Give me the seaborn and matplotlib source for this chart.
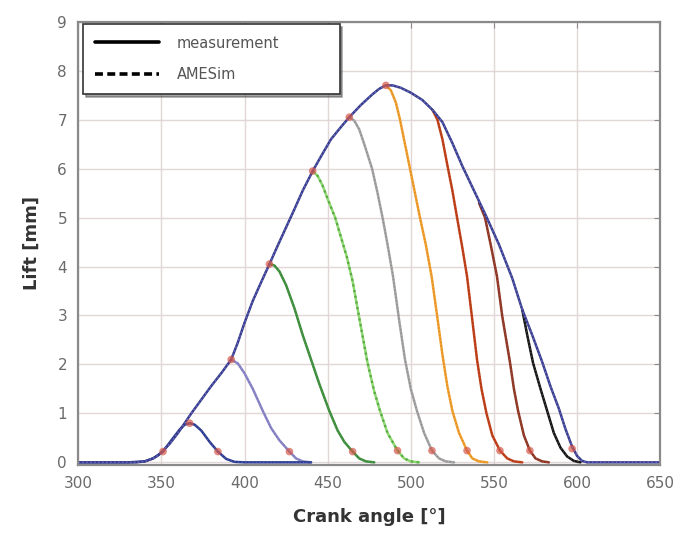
import matplotlib
matplotlib.use('Agg')
import matplotlib.pyplot as plt
from matplotlib.lines import Line2D
import seaborn as sns
import pandas as pd

#------------------------------------------------------------------------------------------------------------------------------
# values (crank angle in deg, lift in mm)

env_x = [300, 320, 335, 340, 345, 348, 351, 355, 360, 364, 368, 374, 380, 386, 392, 396, 400, 405, 410, 415, 420, 425,
         430, 435, 441, 446, 452, 458, 463, 470, 477, 481, 485, 489, 494, 500, 507, 513, 519, 525, 531, 538, 545, 553,
         561, 567, 573, 579, 584, 589, 593, 597, 600, 603, 606, 620, 650]
env_y = [0, 0, 0, 0.02, 0.08, 0.14, 0.24, 0.38, 0.6, 0.8, 1.0, 1.28, 1.56, 1.82, 2.1, 2.45, 2.85, 3.3, 3.68, 4.05, 4.43,
         4.8, 5.17, 5.55, 5.95, 6.25, 6.6, 6.85, 7.05, 7.3, 7.52, 7.63, 7.7, 7.7, 7.65, 7.55, 7.4, 7.2, 6.95, 6.52, 6.05,
         5.55, 5.05, 4.45, 3.76, 3.12, 2.6, 2.05, 1.55, 1.1, 0.68, 0.32, 0.13, 0.03, 0, 0, 0]

c1_x = [300, 330, 340, 345, 351, 356, 361, 364, 367, 370, 374, 379, 384, 389, 394, 400, 440]
c1_y = [0, 0, 0.02, 0.08, 0.22, 0.45, 0.67, 0.77, 0.8, 0.77, 0.65, 0.42, 0.22, 0.07, 0.01, 0, 0]

c2_x = [392, 396, 400, 405, 411, 416, 421, 427, 431, 435, 440]
c2_y = [2.1, 2.02, 1.82, 1.5, 1.05, 0.7, 0.45, 0.22, 0.08, 0.02, 0]

c3_x = [415, 418, 421, 425, 430, 435, 440, 445, 451, 456, 460, 465, 469, 473, 478]
c3_y = [4.05, 4.02, 3.9, 3.62, 3.15, 2.6, 2.1, 1.6, 1.05, 0.65, 0.42, 0.22, 0.08, 0.02, 0]

c4_x = [441, 444, 447, 450, 454.5, 458, 461.5, 465, 469, 474, 478, 481.5, 486, 492, 496, 500, 505]
c4_y = [5.95, 5.85, 5.65, 5.38, 5.0, 4.6, 4.2, 3.7, 2.95, 2.03, 1.45, 1.05, 0.6, 0.24, 0.08, 0.02, 0]

c5_x = [463, 466, 469, 472, 476.7, 480, 483, 486, 489.3, 493, 496.5, 500, 503.7, 508, 512.7, 517, 521, 526]
c5_y = [7.05, 6.98, 6.8, 6.5, 6.0, 5.5, 5.0, 4.45, 3.8, 2.9, 2.1, 1.5, 1.05, 0.6, 0.24, 0.08, 0.02, 0]

c6_x = [485, 488, 491, 493.5, 496.5, 499.5, 502.5, 505.5, 509, 512.5, 516, 519, 522, 525, 529, 533.8, 537, 541, 546]
c6_y = [7.7, 7.6, 7.35, 7.0, 6.5, 6.0, 5.5, 5.0, 4.45, 3.8, 2.95, 2.2, 1.55, 1.05, 0.6, 0.24, 0.08, 0.02, 0]

c7_x = [513, 516, 519, 521.8, 525, 527.8, 531, 533.8, 537, 539.8, 542.5, 545.5, 549, 553.6, 558, 562, 567]
c7_y = [7.2, 7.0, 6.6, 6.1, 5.55, 5.0, 4.38, 3.8, 2.9, 2.1, 1.5, 1.0, 0.55, 0.24, 0.08, 0.02, 0]

c8_x = [541, 544.6, 548, 551.8, 555, 559.6, 562, 564.5, 568, 571.6, 575, 579, 583]
c8_y = [5.3, 5.0, 4.45, 3.8, 2.98, 2.05, 1.5, 1.05, 0.55, 0.24, 0.08, 0.02, 0]

c9_x = [567, 570, 573.5, 578, 582, 586, 590, 594, 598, 602]
c9_y = [3.12, 2.6, 2.03, 1.5, 1.05, 0.6, 0.3, 0.12, 0.03, 0]

mark_x = [351, 367, 384, 392, 427, 415, 465, 441, 492, 463, 512.7, 485, 533.8, 553.6, 571.6, 597]
mark_y = [0.22, 0.8, 0.22, 2.1, 0.22, 4.05, 0.22, 5.95, 0.24, 7.05, 0.24, 7.7, 0.24, 0.24, 0.24, 0.28]

xticks = [300, 350, 400, 450, 500, 550, 600, 650]
yticks = [0, 1, 2, 3, 4, 5, 6, 7, 8, 9]

#------------------------------------------------------------------------------------------------------------------------------

sns.set_style("white")
plt.rcParams['font.family'] = ['DejaVu Sans']

fig = plt.figure(figsize=(6.8, 5.43), dpi=100)
ax = fig.add_axes([0.115, 0.144, 0.856, 0.816])

# (x, y, measurement colour, AMESim colour, AMESim width)
curves = [
    (c2_x, c2_y, '#8c88c8', '#7c78bc', 1.0),
    (c3_x, c3_y, '#3c8a3c', '#4f9e4a', 1.0),
    (c4_x, c4_y, '#8ed872', '#5aa844', 1.6),
    (c5_x, c5_y, '#a6a6a6', '#8e8e8e', 1.0),
    (c6_x, c6_y, '#f2a232', '#de8a22', 1.0),
    (c7_x, c7_y, '#c4441c', '#a83818', 1.0),
    (c8_x, c8_y, '#8c3422', '#a04a3a', 1.0),
    (c9_x, c9_y, '#111111', '#444444', 1.0),
    (c1_x, c1_y, '#2c3a8c', '#4a5ab8', 1.0),
    (env_x, env_y, '#3c3c86', '#5c6cd0', 1.1),
]

for xs, ys, col, col2, lw2 in curves:
    df = pd.DataFrame({'angle': xs, 'lift': ys})
    sns.lineplot(data=df, x='angle', y='lift', ax=ax, color=col, linewidth=1.8, sort=False)
    sns.lineplot(data=df, x='angle', y='lift', ax=ax, color=col2, linewidth=lw2, sort=False,
                 linestyle=(0, (1.0, 1.6)))

sns.scatterplot(x=mark_x, y=mark_y, ax=ax, color='#d4584a', s=30, alpha=0.7, edgecolor='none', zorder=5)

ax.set_xlim(300, 650)
ax.set_ylim(-0.05, 9)
ax.set_xticks(xticks)
ax.set_yticks(yticks)
ax.grid(True, color='#e2d6d6', linewidth=1.0)
for sp in ax.spines.values():
    sp.set_color('#8a8a8a')
    sp.set_linewidth(1.6)
ax.tick_params(direction='in', length=4, color='#8a8a8a', top=True, right=True,
               labelsize=11, labelcolor='#6a6a6a', pad=8)

ax.set_xlabel('Crank angle [°]', fontsize=13, fontweight='bold', color='#333333', labelpad=12)
ax.set_ylabel('Lift [mm]', fontsize=13, fontweight='bold', color='#333333', labelpad=12)

handles = [Line2D([0], [0], color='black', linewidth=2.6),
           Line2D([0], [0], color='black', linewidth=2.6, linestyle=(0, (2.2, 1.2)))]
leg = ax.legend(handles, ['measurement', 'AMESim'], loc='upper left', bbox_to_anchor=(0.009, 0.838, 0.44, 0.157),
                mode='expand', borderaxespad=0, fancybox=False, shadow=True, frameon=True, handlelength=4.4,
                fontsize=10.5, labelspacing=1.15, borderpad=0.8, handletextpad=1.2)
leg.get_frame().set_edgecolor('#333333')
leg.get_frame().set_linewidth(1.2)
for t in leg.get_texts():
    t.set_color('#555555')

plt.savefig('out.png', dpi=100)
